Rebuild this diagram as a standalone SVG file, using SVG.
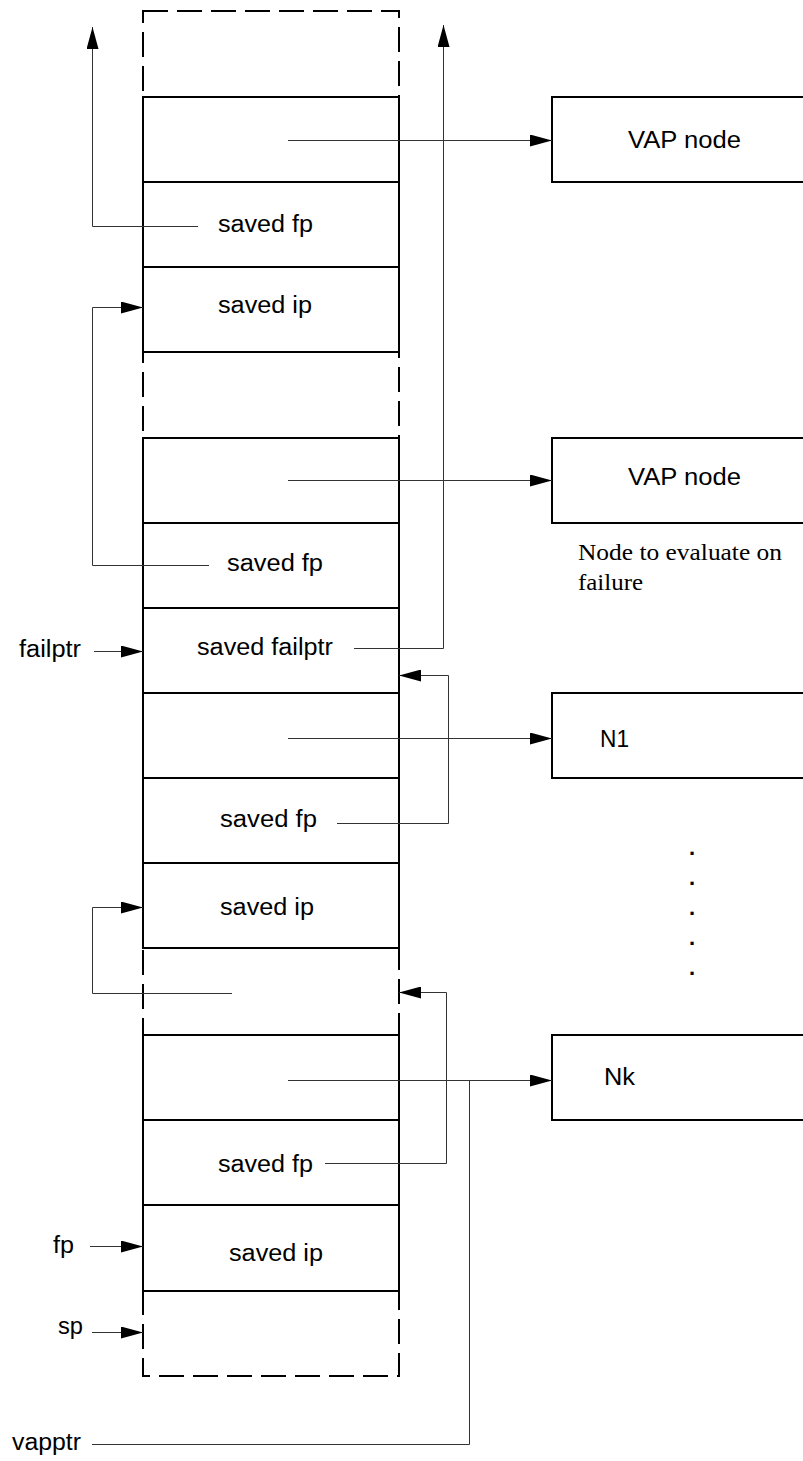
<svg xmlns="http://www.w3.org/2000/svg" width="803" height="1461" viewBox="0 0 803 1461">
<defs>
<marker id="ah" markerUnits="userSpaceOnUse" markerWidth="22" markerHeight="12" refX="22" refY="6" orient="auto">
<path d="M0,0 L22,6 L0,12 z" fill="#000"/>
</marker>
<style>
.cell{fill:#fff;stroke:#000;stroke-width:2}
.node{fill:#fff;stroke:#000;stroke-width:2}
.outer{fill:none;stroke:#000;stroke-width:2;stroke-dasharray:25 9}
.t{font-family:"Liberation Sans",Arial,sans-serif;font-size:23px;fill:#000}
.s{font-family:"Liberation Serif","Times New Roman",serif;font-size:23px;fill:#000}
.d{font-family:"Liberation Sans",Arial,sans-serif;font-size:22px;font-weight:bold;fill:#000}
.c{fill:none;stroke:#333;stroke-width:1}
.ca{fill:none;stroke:#333;stroke-width:1;marker-end:url(#ah)}
</style>
</defs>
<rect fill="#fff" x="0" y="0" width="803" height="1461"/>
<g id="stack">
<rect class="outer" x="143" y="11" width="256" height="1365"/>
</g>
<g id="frame1">
<rect class="cell" x="143" y="97" width="256" height="85"/>
<rect class="cell" x="143" y="182" width="256" height="85"/>
<text class="t" x="218" y="232" textLength="95" lengthAdjust="spacingAndGlyphs">saved fp</text>
<rect class="cell" x="143" y="267" width="256" height="85"/>
<text class="t" x="218" y="313" textLength="94" lengthAdjust="spacingAndGlyphs">saved ip</text>
</g>
<g id="frame2">
<rect class="cell" x="143" y="438" width="256" height="85"/>
<rect class="cell" x="143" y="523" width="256" height="85"/>
<text class="t" x="227" y="571" textLength="96" lengthAdjust="spacingAndGlyphs">saved fp</text>
<rect class="cell" x="143" y="608" width="256" height="85"/>
<text class="t" x="197" y="655" textLength="136" lengthAdjust="spacingAndGlyphs">saved failptr</text>
</g>
<g id="frame3">
<rect class="cell" x="143" y="693" width="256" height="85"/>
<rect class="cell" x="143" y="778" width="256" height="85"/>
<text class="t" x="220" y="827" textLength="97" lengthAdjust="spacingAndGlyphs">saved fp</text>
<rect class="cell" x="143" y="863" width="256" height="85"/>
<text class="t" x="220" y="915" textLength="94" lengthAdjust="spacingAndGlyphs">saved ip</text>
</g>
<g id="frame4">
<rect class="cell" x="143" y="1035" width="256" height="85"/>
<rect class="cell" x="143" y="1120" width="256" height="85"/>
<text class="t" x="218" y="1172" textLength="95" lengthAdjust="spacingAndGlyphs">saved fp</text>
<rect class="cell" x="143" y="1205" width="256" height="86"/>
<text class="t" x="229" y="1261" textLength="94" lengthAdjust="spacingAndGlyphs">saved ip</text>
</g>
<g id="vap1">
<rect class="node" x="552" y="97" width="260" height="85"/>
<text class="t" x="628" y="148" textLength="113" lengthAdjust="spacingAndGlyphs">VAP node</text>
</g>
<g id="vap2">
<rect class="node" x="552" y="438" width="260" height="85"/>
<text class="t" x="628" y="485" textLength="113" lengthAdjust="spacingAndGlyphs">VAP node</text>
</g>
<g id="note">
<text class="s" x="578" y="560" textLength="204" lengthAdjust="spacingAndGlyphs">Node to evaluate on</text>
<text class="s" x="578" y="590" textLength="65" lengthAdjust="spacingAndGlyphs">failure</text>
</g>
<g id="n1">
<rect class="node" x="552" y="693" width="260" height="85"/>
<text class="t" x="600" y="747" textLength="29" lengthAdjust="spacingAndGlyphs">N1</text>
</g>
<g id="dots">
<text class="d" x="689" y="855">.</text>
<text class="d" x="689" y="885">.</text>
<text class="d" x="689" y="915">.</text>
<text class="d" x="689" y="945">.</text>
<text class="d" x="689" y="975">.</text>
</g>
<g id="nk">
<rect class="node" x="552" y="1035" width="260" height="85"/>
<text class="t" x="604" y="1085" textLength="31" lengthAdjust="spacingAndGlyphs">Nk</text>
</g>
<g id="labels">
<text class="t" x="19" y="657" textLength="62" lengthAdjust="spacingAndGlyphs">failptr</text>
<text class="t" x="53" y="1253" textLength="21" lengthAdjust="spacingAndGlyphs">fp</text>
<text class="t" x="58" y="1334" textLength="25" lengthAdjust="spacingAndGlyphs">sp</text>
<text class="t" x="12" y="1450" textLength="69" lengthAdjust="spacingAndGlyphs">vapptr</text>
</g>
<g id="connectors">
<path class="ca" d="M288,140.5 H552"/>
<path class="ca" d="M198,226.5 H92.5 V27"/>
<path class="ca" d="M209,565.5 H92.5 V307.5 H143"/>
<path class="ca" d="M288,480.5 H552"/>
<path class="ca" d="M354,648.5 H443.5 V25"/>
<path class="ca" d="M94,651.5 H143"/>
<path class="ca" d="M337,823.5 H448.5 V675.5 H399"/>
<path class="ca" d="M288,738.5 H552"/>
<path class="ca" d="M232,993.5 H92.5 V907.5 H143"/>
<path class="ca" d="M325,1163.5 H446.5 V992.5 H399"/>
<path class="ca" d="M288,1080.5 H552"/>
<path class="c" d="M92,1444.5 H469.5 V1081"/>
<path class="ca" d="M90,1246.5 H143"/>
<path class="ca" d="M92,1332.5 H143"/>
</g>
</svg>
